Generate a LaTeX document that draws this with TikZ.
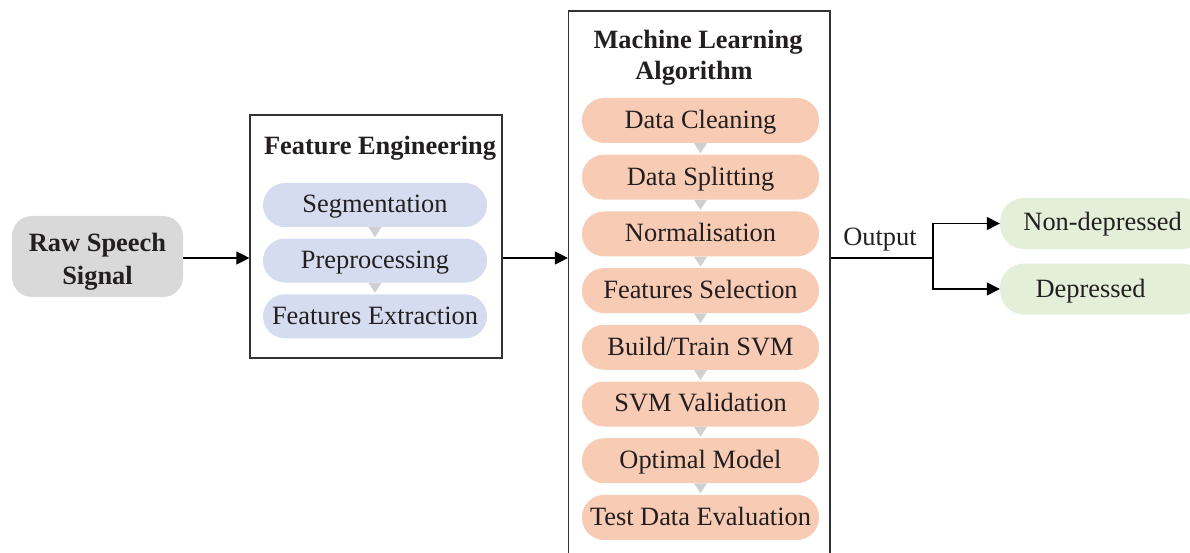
\documentclass[tikz,border=0pt]{standalone}
\usepackage{fontspec}
\setmainfont{Liberation Serif}
\usetikzlibrary{arrows.meta,calc}

\definecolor{txt}{HTML}{231F20}
\definecolor{rawgray}{HTML}{D9D9D9}
\definecolor{feblue}{HTML}{D6DCF0}
\definecolor{mlsalmon}{HTML}{F8CBB4}
\definecolor{outgreen}{HTML}{E3EFD9}
\definecolor{trigray}{HTML}{D0D0D0}
\definecolor{framec}{HTML}{333333}

\begin{document}
\begin{tikzpicture}[x=1pt,y=-1pt,
  every node/.style={font=\fontsize{26.4}{31}\selectfont, text=txt},
  pill/.style={rounded corners=22pt, inner sep=0pt, text height=19.8pt, text depth=4pt},
  fepill/.style={pill, fill=feblue, minimum width=224pt, minimum height=44pt},
  mlpill/.style={pill, fill=mlsalmon, minimum width=237pt, minimum height=45pt},
  outpill/.style={pill, fill=outgreen, minimum width=206pt, minimum height=51pt, rounded corners=24pt},
  frame/.style={draw=framec, line width=1.2pt, inner sep=0pt},
  title/.style={font=\fontsize{26.4}{31}\selectfont\bfseries, anchor=base},
  conn/.style={draw=black, line width=1.3pt},
  link/.style={conn, -{Triangle[length=13pt,width=13pt]}},
  tri/.style={fill=trigray},
]
\useasboundingbox (0,0) rectangle (1190,553);
\clip (0,0) rectangle (1190,553);

% input signal
\node[fill=rawgray, rounded corners=20pt, minimum width=171pt, minimum height=81pt,
      inner sep=0pt] (raw) at (97.5,256.5) {};
\node[align=center, inner sep=0pt, font=\fontsize{26.4}{33}\selectfont\bfseries]
      (rawtext) at (97.5,261.5) {Raw Speech\\Signal};

% feature engineering block
\node[frame, minimum width=252pt, minimum height=243pt] (fe) at (376,236.5) {};
\node[title] (fetitle) at (380,154.5) {Feature Engineering};
\node[fepill] (seg) at (375,205) {Segmentation};
\node[fepill] (pre) at (375,260.6) {Preprocessing};
\node[fepill] (fex) at (375,316.3) {Features Extraction};

% machine learning block
\node[frame, minimum width=261.5pt, minimum height=560pt] (ml) at (699.25,291) {};
\node[title] (mltitle1) at (698,49) {Machine Learning};
\node[title] (mltitle2) at (694,80) {Algorithm};
\foreach \name/\txt [count=\i from 0] in
  {clean/{Data Cleaning}, split/{Data Splitting}, norm/{Normalisation},
   fsel/{Features Selection}, build/{Build/Train SVM}, valid/{SVM Validation},
   opt/{Optimal Model}, test/{Test Data Evaluation}}
  \node[mlpill] (\name) at (700.5,{120.5+56.7*\i}) {\txt};

% step markers between pills
\foreach \a in {seg,pre,clean,split,norm,fsel,build,valid,opt}
  \fill[tri] ($(\a.south)+(-6.5,0)$) -- ($(\a.south)+(6.5,0)$) -- ($(\a.south)+(0,10)$) -- cycle;

% outcome classes
\node[outpill] (nondep) at (1103,223.5) {};
\node[anchor=base] (nondeptext) at (1102.6,231) {Non-depressed};
\node[outpill] (dep) at (1103,289) {};
\node[anchor=base] (deptext) at (1090.5,297) {Depressed};

% connectors
\coordinate (mid) at (0,258);
\coordinate (fork) at (933,258);
\draw[link] (raw.east |- mid) -- (fe.west |- mid);
\draw[link] (fe.east |- mid) -- (ml.west |- mid);
\draw[conn] (ml.east |- mid) -- (fork);
\node[anchor=base] (outlbl) at (880,245) {Output};
\draw[link] (fork) |- (nondep.west);
\draw[link] (fork) |- (dep.west);
\end{tikzpicture}
\end{document}
